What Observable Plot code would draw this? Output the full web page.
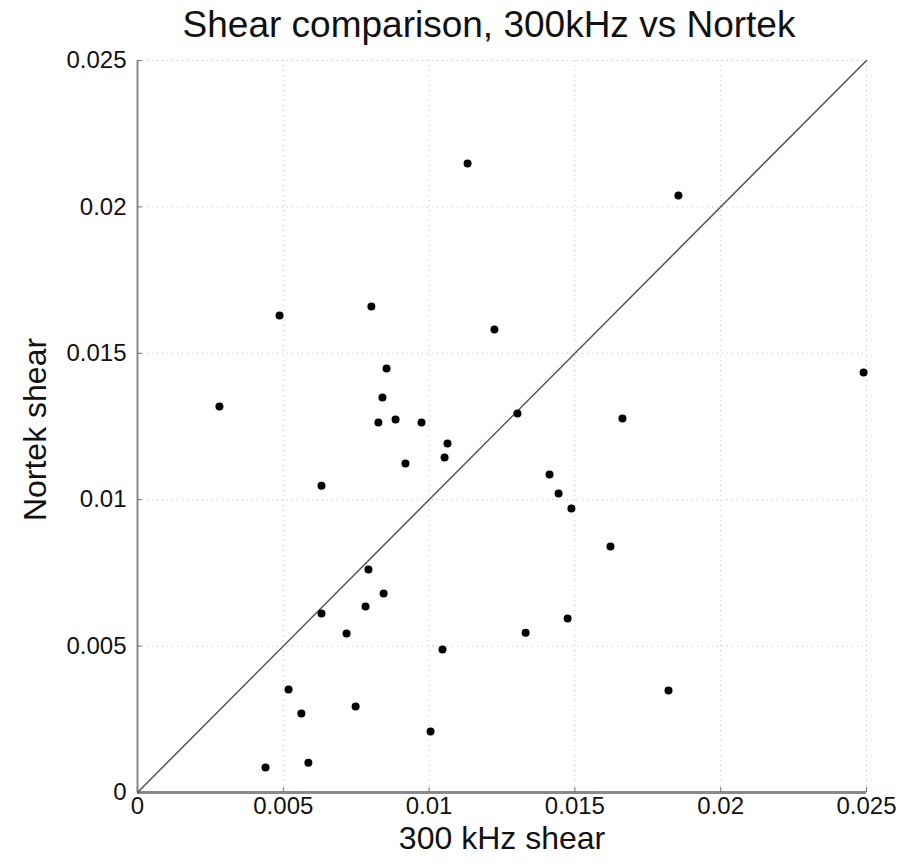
<!DOCTYPE html>
<html>
<head>
<meta charset="utf-8">
<script src="https://cdn.jsdelivr.net/npm/d3@7"></script>
<script src="https://cdn.jsdelivr.net/npm/@observablehq/plot@0.6"></script>
<style>
  html, body { margin: 0; padding: 0; background: #fff; }
  #title { height: 40px; width: 852px; padding-left: 63px; text-align: center; font-family: "Liberation Sans", Arial, sans-serif; font-size: 37px; line-height: 50px; color: #111; white-space: nowrap; }
  svg { display: block; }
</style>
</head>
<body>
<div id="title">Shear comparison, 300kHz vs Nortek</div>
<div id="chart"></div>
<script>
const shear300 = [0.01132, 0.01855, 0.00802, 0.00487, 0.01224, 0.02490, 0.00854, 0.00840, 0.00281, 0.00826,
                  0.00885, 0.00974, 0.01303, 0.01663, 0.01063, 0.01053, 0.00919, 0.00631, 0.01413, 0.01444,
                  0.01488, 0.01622, 0.00792, 0.00844, 0.00782, 0.00631, 0.00717, 0.01331, 0.01475, 0.01046,
                  0.00518, 0.00562, 0.00748, 0.01821, 0.01005, 0.00439, 0.00586];
const shearNortek = [0.02148, 0.02039, 0.01660, 0.01629, 0.01581, 0.01434, 0.01448, 0.01349, 0.01318, 0.01264,
                     0.01274, 0.01264, 0.01294, 0.01277, 0.01192, 0.01144, 0.01124, 0.01048, 0.01086, 0.01021,
                     0.00970, 0.00840, 0.00762, 0.00680, 0.00635, 0.00611, 0.00543, 0.00546, 0.00594, 0.00488,
                     0.00352, 0.00270, 0.00294, 0.00348, 0.00208, 0.00085, 0.00102];
const tickValues = [0, 0.005, 0.01, 0.015, 0.02, 0.025];
const tickLabels = ["0", "0.005", "0.01", "0.015", "0.02", "0.025"];
const diagonal = [0, 0.025];

const points = shear300.map((x, i) => ({x, y: shearNortek[i]}));
const diag = diagonal.map(v => ({x: v, y: v}));
const fmt = d => tickLabels[tickValues.findIndex(t => Math.abs(t - d) < 1e-9)];

const chart = Plot.plot({
  width: 915,
  height: 825,
  marginLeft: 137,
  marginRight: 49,
  marginTop: 20,
  marginBottom: 73,
  style: {fontFamily: "Liberation Sans, Arial, sans-serif", fontSize: "24px", color: "#111", background: "transparent"},
  x: {domain: [0, 0.025]},
  y: {domain: [0, 0.025]},
  marks: [
    Plot.gridX(tickValues, {stroke: "#c4c4c4", strokeOpacity: 1, strokeDasharray: "1,4"}),
    Plot.gridY(tickValues, {stroke: "#c4c4c4", strokeOpacity: 1, strokeDasharray: "1,4"}),
    Plot.ruleY([0], {stroke: "#8a8a8a", strokeWidth: 3}),
    Plot.ruleX([0], {stroke: "#8a8a8a", strokeWidth: 2}),
    Plot.axisX(tickValues, {tickSize: -5, stroke: "#777", tickFormat: fmt, tickPadding: 9, fontSize: 24, label: null}),
    Plot.axisY(tickValues, {tickSize: -5, stroke: "#777", tickFormat: fmt, tickPadding: 16, fontSize: 24, label: null}),
    Plot.text(["300 kHz shear"], {frameAnchor: "bottom", lineAnchor: "bottom", dy: 56, fontSize: 32, fill: "#111"}),
    Plot.text(["Nortek shear"], {frameAnchor: "left", textAnchor: "middle", dx: -102, dy: 3, rotate: -90, fontSize: 32, fill: "#111"}),
    Plot.line(diag, {x: "x", y: "y", stroke: "#555", strokeWidth: 1.5}),
    Plot.dot(points, {x: "x", y: "y", r: 4, fill: "#000", stroke: "none"})
  ]
});
document.getElementById("chart").appendChild(chart);
</script>
</body>
</html>
